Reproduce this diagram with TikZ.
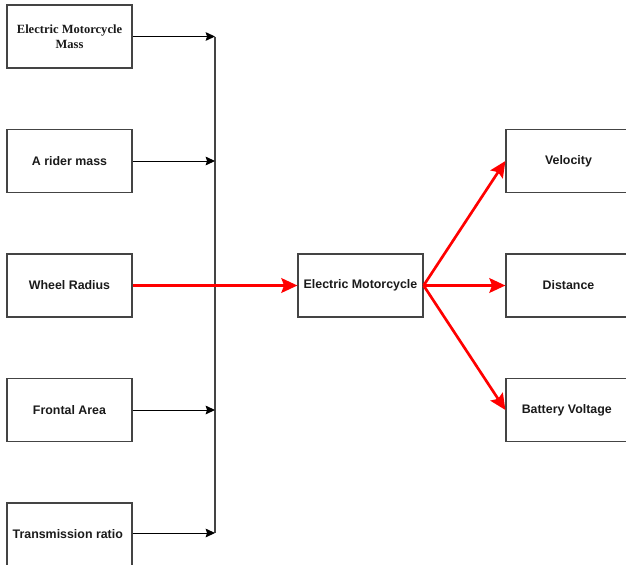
\documentclass[tikz,border=0pt]{standalone}
\usepackage{fontspec}
\setmainfont{Liberation Sans}
\newfontfamily\timesfont{Liberation Serif}
\usetikzlibrary{arrows.meta,positioning}
\definecolor{Ink}{HTML}{1A1A1A}
\definecolor{Edge}{HTML}{444444}
\definecolor{Hot}{RGB}{255,0,0}

\begin{document}
\begin{tikzpicture}[x=0.75pt,y=-0.75pt,
  box/.style={draw=Edge,line width=0.9pt,minimum width=93.75pt,minimum height=47.25pt,
    inner sep=2pt,align=center,text=Ink,font=\bfseries\fontsize{9.3}{11}\selectfont},
  serif/.style={font=\timesfont\bfseries\fontsize{9.4}{11.3}\selectfont},
  bus/.style={line width=0.8pt,draw=Edge},
  feed/.style={-{Stealth[length=7pt,width=6.5pt,inset=1pt]},line width=0.75pt,draw=black},
  hot/.style={-{Stealth[length=12pt,width=11pt,inset=2pt]},line width=2pt,draw=Hot}
]
\useasboundingbox (0,0) rectangle (626,565);
\clip (0,0) rectangle (626,565);

% inputs
\node[box,serif] (mass) at (69.5,36.5) {Electric Motorcycle\\Mass};
\foreach \name/\y/\txt in {
  rider/161/A rider mass,
  wheel/285.5/Wheel Radius,
  area/410/Frontal Area,
  ratio/534.5/Transmission ratio
} {
  \node[box] (\name) at (69.5,\y) {\txt};
}

% model and outputs
\node[box] (ev) at (360.5,285.5) {Electric Motorcycle};
\foreach \name/\y/\txt in {
  vel/161/Velocity,
  dist/285.5/Distance,
  volt/410/Battery Voltage
} {
  \node[box] (\name) at (568.5,\y) {\txt};
}

% bus
\coordinate (bustop) at (215,36.5);
\coordinate (busbot) at (215,533);
\draw[bus] (bustop) -- (busbot);
\foreach \n in {mass,rider,area} \draw[feed] (\n.east) -- (\n.east -| bustop);
\draw[feed] (ratio.east |- busbot) -- (busbot);

% red path
\draw[hot] (wheel) -- (ev);
\foreach \n in {vel,dist,volt} \draw[hot] (ev.east) -- (\n.west);
\end{tikzpicture}
\end{document}
